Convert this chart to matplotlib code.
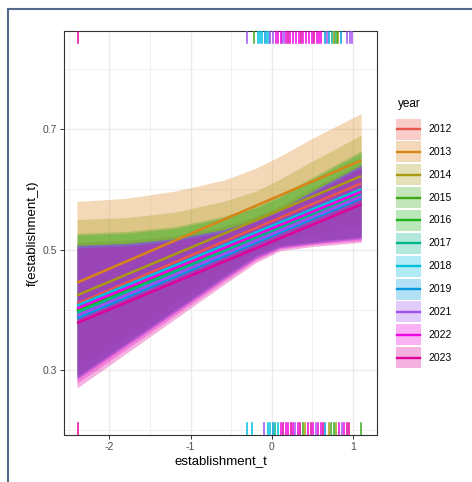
import matplotlib
matplotlib.use("Agg")
import matplotlib.pyplot as plt
from matplotlib.patches import Rectangle

plt.rcParams['font.family'] = ['Liberation Sans', 'DejaVu Sans']

# ---------------- data ----------------
years = ['2012', '2013', '2014', '2015', '2016', '2017', '2018', '2019', '2021', '2022', '2023']
colors = ['#E8574E', '#D98416', '#A89A12', '#3EA81A', '#1DB31D', '#00B88C',
          '#00C0E0', '#0099E0', '#A050F0', '#F000E0', '#E0009A']

x_ends = [-2.4, 1.1]
fit_2012 = [0.410, 0.610]
fit_2013 = [0.445, 0.648]
fit_2014 = [0.424, 0.622]
fit_2015 = [0.400, 0.600]
fit_2016 = [0.397, 0.597]
fit_2017 = [0.395, 0.593]
fit_2018 = [0.407, 0.600]
fit_2019 = [0.386, 0.585]
fit_2021 = [0.390, 0.588]
fit_2022 = [0.402, 0.596]
fit_2023 = [0.378, 0.575]

x_grid = [-2.4, -1.8, -1.2, -0.6, -0.2, 0.1, 0.5, 1.1]
upper_2012 = [0.512, 0.515, 0.523, 0.538, 0.555, 0.572, 0.602, 0.645]
upper_2013 = [0.580, 0.585, 0.597, 0.615, 0.635, 0.655, 0.685, 0.726]
upper_2014 = [0.550, 0.553, 0.562, 0.580, 0.597, 0.617, 0.647, 0.690]
upper_2015 = [0.527, 0.530, 0.538, 0.555, 0.572, 0.590, 0.620, 0.664]
upper_2016 = [0.524, 0.527, 0.535, 0.552, 0.569, 0.587, 0.617, 0.660]
upper_2017 = [0.507, 0.510, 0.518, 0.533, 0.550, 0.567, 0.597, 0.640]
upper_2018 = [0.507, 0.510, 0.518, 0.533, 0.550, 0.567, 0.597, 0.640]
upper_2019 = [0.505, 0.508, 0.516, 0.531, 0.548, 0.565, 0.595, 0.638]
upper_2021 = [0.507, 0.510, 0.518, 0.533, 0.550, 0.567, 0.597, 0.640]
upper_2022 = [0.507, 0.510, 0.518, 0.533, 0.550, 0.567, 0.597, 0.640]
upper_2023 = [0.503, 0.506, 0.514, 0.529, 0.546, 0.563, 0.593, 0.636]

lower_2012 = [0.290, 0.345, 0.400, 0.455, 0.490, 0.508, 0.515, 0.522]
lower_2013 = [0.320, 0.370, 0.420, 0.470, 0.500, 0.520, 0.540, 0.560]
lower_2014 = [0.300, 0.355, 0.410, 0.460, 0.495, 0.512, 0.525, 0.540]
lower_2015 = [0.290, 0.345, 0.400, 0.455, 0.490, 0.506, 0.513, 0.522]
lower_2016 = [0.290, 0.345, 0.400, 0.455, 0.490, 0.506, 0.513, 0.522]
lower_2017 = [0.288, 0.343, 0.398, 0.453, 0.488, 0.505, 0.512, 0.520]
lower_2018 = [0.288, 0.343, 0.398, 0.453, 0.488, 0.505, 0.512, 0.520]
lower_2019 = [0.285, 0.340, 0.395, 0.450, 0.485, 0.503, 0.510, 0.518]
lower_2021 = [0.285, 0.340, 0.395, 0.450, 0.485, 0.503, 0.510, 0.518]
lower_2022 = [0.278, 0.334, 0.390, 0.446, 0.482, 0.501, 0.508, 0.515]
lower_2023 = [0.270, 0.327, 0.384, 0.441, 0.478, 0.498, 0.505, 0.512]

fits = [fit_2012, fit_2013, fit_2014, fit_2015, fit_2016, fit_2017,
        fit_2018, fit_2019, fit_2021, fit_2022, fit_2023]
uppers = [upper_2012, upper_2013, upper_2014, upper_2015, upper_2016, upper_2017,
          upper_2018, upper_2019, upper_2021, upper_2022, upper_2023]
lowers = [lower_2012, lower_2013, lower_2014, lower_2015, lower_2016, lower_2017,
          lower_2018, lower_2019, lower_2021, lower_2022, lower_2023]

# rug: establishment = 1 (top)
rug_top_x = [-2.39, -0.31, -0.22,
             -0.17, -0.15, -0.12, -0.09, -0.06, -0.04,
             -0.02, 0.02, 0.05, 0.08, 0.12, 0.15,
             0.11, 0.18, 0.22, 0.26, 0.30, 0.34, 0.38, 0.42, 0.46, 0.50, 0.55, 0.58,
             0.20, 0.36, 0.52, 0.61,
             0.65, 0.70, 0.68, 0.74, 0.78, 0.76, 0.82, 0.80, 0.85,
             0.93, 0.96, 0.99]
rug_top_year = ['2023', '2021', '2015',
                '2018', '2018', '2018', '2019', '2018', '2018',
                '2021', '2021', '2022', '2022', '2021', '2021',
                '2022', '2022', '2022', '2022', '2022', '2022', '2022', '2022', '2022', '2022', '2022', '2022',
                '2023', '2023', '2023', '2022',
                '2019', '2019', '2021', '2017', '2017', '2014', '2014', '2015', '2019',
                '2021', '2021', '2021']
# rug: establishment = 0 (bottom)
rug_bot_x = [-2.39, -0.31, -0.25, -0.10, -0.05, -0.02, 0.01, 0.04, 0.07,
             0.11, 0.14, 0.17, 0.20, 0.23, 0.26, 0.29, 0.32, 0.35,
             0.38, 0.41, 0.45, 0.48, 0.51, 0.54, 0.57, 0.60, 0.63, 0.66,
             0.70, 0.73, 0.76, 0.79, 0.83, 0.86, 0.89, 0.92, 0.95, 1.10]
rug_bot_year = ['2023', '2018', '2018', '2021', '2018', '2018', '2019', '2017', '2018',
                '2022', '2023', '2022', '2022', '2023', '2022', '2021', '2022', '2023',
                '2015', '2014', '2022', '2023', '2022', '2021', '2022', '2022', '2023', '2019',
                '2014', '2015', '2016', '2014', '2022', '2021', '2022', '2023', '2023', '2015']

x_ticks = [-2, -1, 0, 1]
x_tick_labels = ['-2', '-1', '0', '1']
y_ticks = [0.3, 0.5, 0.7]
y_tick_labels = ['0.3', '0.5', '0.7']

# ---------------- figure ----------------
W, H = 472, 482
fig = plt.figure(figsize=(W / 100, H / 100), dpi=100)
fig.patch.set_facecolor('white')

pl, pr, pt, pb = 64, 377, 31, 435
ax = fig.add_axes([pl / W, 1 - pb / H, (pr - pl) / W, (pb - pt) / H])
ax.set_facecolor('white')
ax.set_xlim(-2.56, 1.295)
ax.set_ylim(0.192, 0.863)

grid_c = '#EBEBEB'
for v in [-2.5, -1.5, -0.5, 0.5]:
    ax.axvline(v, color=grid_c, lw=0.5, zorder=0)
for v in [0.2, 0.4, 0.6, 0.8]:
    ax.axhline(v, color=grid_c, lw=0.5, zorder=0)
for v in x_ticks:
    ax.axvline(v, color=grid_c, lw=1.0, zorder=0)
for v in y_ticks:
    ax.axhline(v, color=grid_c, lw=1.0, zorder=0)

col = dict(zip(years, colors))
for y, c, lo, up in zip(years, colors, lowers, uppers):
    ax.fill_between(x_grid, lo, up, color=c, alpha=0.3, lw=0, zorder=1)
for y, c, f in zip(years, colors, fits):
    ax.plot(x_ends, f, color=c, lw=1.8, solid_capstyle='butt', zorder=3)

tr = ax.get_xaxis_transform()
for xv, yr in zip(rug_top_x, rug_top_year):
    ax.plot([xv, xv], [0.97, 1.0], color=col[yr], lw=1.1, transform=tr, zorder=4)
for xv, yr in zip(rug_bot_x, rug_bot_year):
    ax.plot([xv, xv], [0.0, 0.03], color=col[yr], lw=1.1, transform=tr, zorder=4)

for s in ax.spines.values():
    s.set_color('#333333')
    s.set_linewidth(0.8)
ax.set_xticks(x_ticks)
ax.set_xticklabels(x_tick_labels)
ax.set_yticks(y_ticks)
ax.set_yticklabels(y_tick_labels)
ax.tick_params(axis='both', colors='#333333', length=3, width=0.7, labelsize=7.5,
               labelcolor='#4D4D4D', pad=2)
ax.set_xlabel('establishment_t', fontsize=9.5, color='black', labelpad=2)
ax.set_ylabel('f(establishment_t)', fontsize=9.5, color='black', labelpad=3)

# overlay for frame (pixel coords)
ov = fig.add_axes([0, 0, 1, 1], zorder=-1)
ov.set_xlim(0, W)
ov.set_ylim(H, 0)
ov.axis('off')
ov.plot([8, 8], [9, H + 5], color='#56698A', lw=1.5)
ov.plot([8, W + 5], [9, 9], color='#56698A', lw=1.5)

# legend (pixel coords)
lg = fig.add_axes([0, 0, 1, 1], zorder=5)
lg.set_xlim(0, W)
lg.set_ylim(H, 0)
lg.axis('off')
lg.patch.set_alpha(0)
lg.text(398, 104, 'year', fontsize=8.5, va='center', ha='left', color='black')
for i, (y, c) in enumerate(zip(years, colors)):
    yc = 129 + i * 22.87
    lg.add_patch(Rectangle((396, yc - 10.5), 24.5, 21.0, facecolor=c, alpha=0.3, lw=0))
    lg.plot([397, 419.5], [yc, yc], color=c, lw=1.7)
    lg.text(428, yc, y, fontsize=7.5, va='center', ha='left', color='black')

fig.savefig('out.png', dpi=100)
